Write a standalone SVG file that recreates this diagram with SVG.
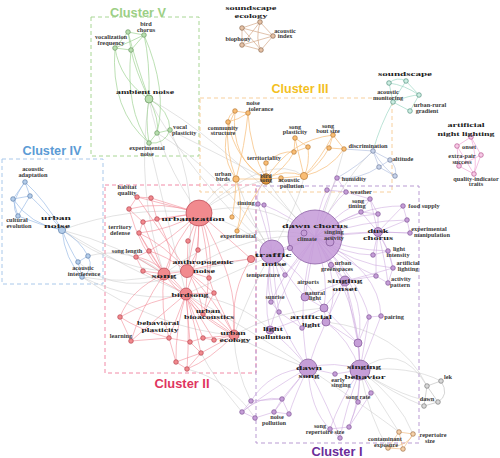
<svg xmlns="http://www.w3.org/2000/svg" width="500" height="458" viewBox="0 0 500 458">
<style>
.bg{fill:#fff}
.box{fill:none;stroke-width:1;stroke-dasharray:4 3}
.ct{font-family:"Liberation Sans",Arial,sans-serif;font-weight:bold;font-size:13px;text-anchor:middle}
.e path{fill:none;stroke-linecap:round}
.eg path{stroke:#c4c4c4;stroke-width:.6;opacity:.8}
.ev path{stroke:#9fd394;stroke-width:.7}
.eb path{stroke:#d4a98a;stroke-width:.7}
.et path{stroke:#9fd8c6;stroke-width:.7}
.ep path{stroke:#f0a6d6;stroke-width:.7}
.e4 path{stroke:#9dbde6;stroke-width:.7}
.e3 path{stroke:#f7c488;stroke-width:.8}
.ea path{stroke:#a9b9dc;stroke-width:.6}
.e2 path{stroke:#f28b96;stroke-width:.65;opacity:.9}
.e1 path{stroke:#cba5dd;stroke-width:.6;opacity:.9}
.el path{stroke:#b9b9b9;stroke-width:.6}
.ec path{stroke:#f0bf8a;stroke-width:.7}
.nv{fill:#b8deae;stroke:#6b9863;stroke-width:.7}
.nb{fill:#e6c2a6;stroke:#8d6a50;stroke-width:.7}
.nt{fill:#cdeee2;stroke:#55917f;stroke-width:.7}
.np{fill:#f7c9e6;stroke:#b5578f;stroke-width:.7}
.n4{fill:#b4cdea;stroke:#5d7ea9;stroke-width:.7}
.n3{fill:#f9bd74;stroke:#b87a35;stroke-width:.7}
.na{fill:#c8d3ea;stroke:#6e7d9c;stroke-width:.7}
.n2{fill:#f18a8e;stroke:#b8434f;stroke-width:.7}
.n1{fill:#c59ed7;stroke:#7f5496;stroke-width:.7}
.nl{fill:#d8d8d8;stroke:#7a7a7a;stroke-width:.7}
.nc{fill:#f5d0a8;stroke:#a07046;stroke-width:.7}
.t{font-family:"Liberation Serif","Times New Roman",serif;font-weight:bold;fill:#3a3a3a;text-anchor:middle;font-size:6.3px}
.st{text-anchor:start}
.L{fill:#222}
</style>
<rect class="bg" width="500" height="458"/>

<g id="cluster-boxes">
<rect class="box" x="91" y="17" width="108" height="139" stroke="#a8d694"/>
<rect class="box" x="2" y="159" width="101" height="125" stroke="#a9c8ea"/>
<rect class="box" x="200" y="98" width="192" height="94" stroke="#f7cf9c"/>
<rect class="box" x="105" y="185" width="151" height="188" stroke="#f18aa6"/>
<rect class="box" x="256" y="186" width="163" height="257" stroke="#b99bd2"/>
<text class="ct" x="138" y="17" fill="#9ccf85" textLength="56" lengthAdjust="spacingAndGlyphs">Cluster V</text>
<text class="ct" x="52" y="155" fill="#5b9bd5" textLength="59" lengthAdjust="spacingAndGlyphs">Cluster IV</text>
<text class="ct" x="300" y="93" fill="#f3bf1f" textLength="57" lengthAdjust="spacingAndGlyphs">Cluster III</text>
<text class="ct" x="182" y="388" fill="#df3560" textLength="55" lengthAdjust="spacingAndGlyphs">Cluster II</text>
<text class="ct" x="337" y="456" fill="#6a2c9a" textLength="51" lengthAdjust="spacingAndGlyphs">Cluster I</text>
</g>

<g id="connectors" class="e">
<g class="eg">
<path d="M149 99Q160 160 199 213"/><path d="M149 99Q185 170 272 252"/><path d="M149 99Q135 190 164 274"/><path d="M149 99Q210 130 315 237"/>
<path d="M170 130Q200 190 187 271"/><path d="M149 143Q165 210 186 294"/><path d="M157 133Q220 170 272 252"/><path d="M170 130Q230 160 266 179"/>
<path d="M199 213Q260 195 315 237"/><path d="M199 213Q245 225 272 252"/><path d="M199 213Q230 190 266 179"/><path d="M199 213Q215 185 236 179"/><path d="M199 213Q270 150 304 176"/>
<path d="M187 271Q250 230 315 237"/><path d="M187 271Q230 265 272 252"/><path d="M164 274Q240 215 315 237"/><path d="M186 294Q260 260 315 237"/>
<path d="M186 294Q240 300 270 330"/><path d="M186 294Q250 330 308 368"/><path d="M234 335Q270 355 308 368"/><path d="M234 335Q280 310 324 308"/><path d="M234 335Q250 290 272 252"/>
<path d="M62 230Q120 245 164 274"/><path d="M62 230Q130 205 199 213"/><path d="M62 230Q130 270 186 294"/><path d="M62 230Q120 275 187 271"/><path d="M82 277Q125 285 164 274"/><path d="M82 277Q140 305 186 294"/><path d="M88 256Q130 245 164 274"/><path d="M82 277Q160 330 234 335"/><path d="M78 262Q120 300 187 271"/>
<path d="M272 252Q300 200 304 176"/><path d="M266 179Q290 215 315 237"/><path d="M281 178Q300 210 315 237"/><path d="M315 237Q350 170 373 151"/><path d="M344 149Q330 200 315 237"/><path d="M236 179Q255 230 272 252"/>
<path d="M360 370Q400 340 427 386"/><path d="M360 370Q410 365 441 381"/><path d="M360 370Q395 395 424 406"/><path d="M360 370Q405 400 438 402"/><path d="M360 370Q385 410 399 432"/><path d="M360 370Q400 400 413 434"/><path d="M308 368Q370 410 399 432"/><path d="M360 370Q370 420 388 448"/><path d="M326 322Q400 330 427 386"/>
<path d="M251 401Q235 370 234 335"/><path d="M242 412Q215 380 201 353"/><path d="M255 418Q230 380 187 369"/>
</g>
<g class="ev">
<path d="M149 99Q135 60 128 32"/><path d="M149 99Q150 60 144 35"/><path d="M149 99Q135 70 131 50"/><path d="M149 99Q120 80 115 48"/>
<path d="M128 32L144 35"/><path d="M128 32L115 48"/><path d="M115 48L131 50"/><path d="M131 50L144 35"/><path d="M128 32L131 50"/><path d="M144 35Q130 42 115 48"/>
<path d="M149 99Q160 120 157 133"/><path d="M149 99Q170 110 170 130"/><path d="M149 99Q145 120 149 143"/><path d="M149 143L157 133"/><path d="M157 133L170 130"/><path d="M149 143Q165 145 170 130"/>
<path d="M115 48Q110 110 149 143"/><path d="M131 50Q125 110 149 143"/><path d="M144 35Q168 90 157 133"/>
</g>
<g class="eb">
<path d="M260 22L242 28"/><path d="M260 22L273 36"/><path d="M260 22L242 45"/><path d="M260 22Q255 40 261 50"/><path d="M242 28L273 36"/><path d="M242 28L242 45"/><path d="M242 28L261 50"/><path d="M242 45L261 50"/><path d="M273 36L261 50"/><path d="M242 45L273 36"/>
</g>
<g class="et">
<path d="M389 83Q397 76 406 81"/><path d="M406 81L419 95"/><path d="M389 83Q405 85 419 95"/><path d="M393 102L410 111"/><path d="M419 95L410 111"/><path d="M393 102Q400 90 406 81"/><path d="M389 83L393 102"/><path d="M393 102Q410 95 419 95"/><path d="M393 102Q380 125 373 151"/>
</g>
<g class="ep">
<path d="M471 137L457 146"/><path d="M471 137L481 155"/><path d="M457 146L459 166"/><path d="M481 155L474 174"/><path d="M459 166L474 174"/><path d="M457 146L474 174"/><path d="M471 137Q478 160 474 174"/><path d="M481 155L459 166"/>
</g>
<g class="e4">
<path d="M25 182L30 196"/><path d="M25 182L13 199"/><path d="M30 196L13 199"/><path d="M13 199L18 216"/><path d="M30 196L18 216"/><path d="M25 182Q45 200 62 230"/><path d="M30 196Q45 210 62 230"/><path d="M13 199Q30 225 62 230"/><path d="M18 216Q40 225 62 230"/>
<path d="M62 230Q80 240 88 256"/><path d="M62 230Q70 250 78 262"/><path d="M62 230Q65 260 82 277"/><path d="M88 256L78 262"/><path d="M78 262L82 277"/><path d="M88 256Q95 270 82 277"/><path d="M25 182Q8 205 18 216"/>
</g>
<g class="e3">
<path d="M235 111L248 113"/><path d="M235 111Q228 115 228 122"/><path d="M248 113Q238 120 228 122"/><path d="M235 111Q230 160 266 179"/><path d="M248 113Q250 150 266 179"/><path d="M228 122Q235 160 266 179"/><path d="M228 122Q225 150 236 179"/><path d="M235 111Q215 150 236 179"/><path d="M248 113Q245 145 236 179"/>
<path d="M295 138L308 147"/><path d="M295 138L294 152"/><path d="M308 147L294 152"/><path d="M294 152Q285 170 266 179"/><path d="M308 147Q310 165 304 176"/><path d="M295 138Q300 160 304 176"/>
<path d="M333 135L329 148"/><path d="M333 135L344 149"/><path d="M329 148L344 149"/><path d="M329 148Q320 165 304 176"/><path d="M344 149Q330 170 304 176"/><path d="M333 135Q320 160 304 176"/>
<path d="M266 163L266 179"/><path d="M266 179L281 178"/><path d="M266 179Q285 168 304 176" stroke-width="2"/><path d="M281 178L304 176"/><path d="M236 179L266 179" stroke-width="1.5"/>
<path d="M236 179Q235 205 232 217"/><path d="M236 179Q245 205 237 231"/><path d="M266 179Q250 200 237 231"/><path d="M266 179Q290 140 333 135"/><path d="M266 163Q280 150 294 152"/>
</g>
<g class="ea">
<path d="M373 151L390 160"/><path d="M373 151L379 167"/><path d="M390 160L379 167"/><path d="M390 160Q398 168 395 176"/><path d="M379 167L395 176"/><path d="M373 151Q385 170 395 176"/><path d="M337 178Q360 165 373 151"/><path d="M337 178Q360 180 379 167"/><path d="M344 149L373 151"/>
</g>
<g class="e2">
<path d="M199 213L137 197"/><path d="M199 213L151 198"/><path d="M199 213Q160 200 129 209"/><path d="M199 213L157 219"/><path d="M199 213L143 222"/><path d="M199 213Q170 230 139 233"/><path d="M199 213L188 241"/><path d="M199 213L198 250"/><path d="M199 213Q170 240 149 251"/><path d="M199 213Q175 240 164 274" stroke-width="1.2"/><path d="M199 213L187 271" stroke-width="2.2"/><path d="M199 213Q200 260 186 294" stroke-width="2.2"/><path d="M199 213Q230 240 251 259"/><path d="M199 213Q240 280 234 335" stroke-width="1.5"/><path d="M199 213Q215 250 209 278"/><path d="M199 213Q215 280 203 314"/>
<path d="M187 271L164 274" stroke-width="1.5"/><path d="M187 271L186 294" stroke-width="2"/><path d="M187 271Q220 262 251 259"/><path d="M187 271L209 278"/><path d="M187 271L198 250"/><path d="M187 271L188 241"/><path d="M187 271Q200 290 203 314"/><path d="M187 271Q215 300 234 335" stroke-width="1.2"/><path d="M187 271Q205 285 214 293"/><path d="M187 271Q165 255 149 251"/><path d="M187 271Q165 245 139 233"/><path d="M187 271Q160 230 137 197"/>
<path d="M164 274L139 233"/><path d="M164 274L149 251"/><path d="M164 274L136 257"/><path d="M164 274L143 271"/><path d="M164 274Q150 240 143 222"/><path d="M164 274Q130 290 120 317"/><path d="M164 274Q140 310 131 341"/><path d="M164 274L186 294" stroke-width="1.5"/><path d="M164 274Q160 310 169 338"/><path d="M164 274Q140 250 129 209"/><path d="M164 274Q180 260 157 219"/><path d="M164 274Q200 320 234 335"/>
<path d="M186 294L214 293"/><path d="M186 294L203 314"/><path d="M186 294Q220 320 234 335" stroke-width="2.2"/><path d="M186 294Q150 300 120 317"/><path d="M186 294Q155 320 131 341"/><path d="M186 294L169 338"/><path d="M186 294L190 342"/><path d="M186 294L203 338"/><path d="M186 294L214 340"/><path d="M186 294Q195 325 201 353"/><path d="M186 294Q175 330 176 362"/><path d="M186 294Q190 330 187 369"/><path d="M186 294L143 271"/><path d="M186 294Q160 260 136 257"/>
<path d="M234 335L203 338"/><path d="M234 335L214 340"/><path d="M234 335L201 353"/><path d="M234 335L203 314"/><path d="M234 335L214 293"/><path d="M234 335Q210 360 187 369"/><path d="M234 335Q230 290 251 259"/>
<path d="M137 197L151 198"/><path d="M137 197L129 209"/><path d="M129 209L143 222"/><path d="M157 219L143 222"/><path d="M143 222L139 233"/><path d="M139 233L149 251"/><path d="M149 251L136 257"/><path d="M136 257L143 271"/><path d="M120 317L131 341"/><path d="M131 341L169 338"/><path d="M190 342L203 338"/><path d="M203 338L214 340"/><path d="M190 342L201 353"/><path d="M201 353L176 362"/><path d="M176 362L187 369"/><path d="M187 369L201 353"/><path d="M169 338L190 342"/><path d="M176 362L169 338"/><path d="M151 198L157 219"/><path d="M203 314L214 293"/><path d="M209 278L214 293"/><path d="M120 317Q140 330 169 338"/><path d="M251 259L272 252"/>
</g>
<g class="e1">
<path d="M315 237L272 252" stroke-width="3"/><path d="M315 237L304 233"/><path d="M315 237L330 242"/><path d="M315 237Q290 215 264 205"/><path d="M315 237Q325 200 337 178"/><path d="M315 237Q330 205 346 192"/><path d="M315 237Q318 205 327 190"/><path d="M315 237Q345 205 370 199"/><path d="M315 237Q340 220 361 212"/><path d="M315 237Q345 215 378 214"/><path d="M315 237Q360 205 403 206"/><path d="M315 237Q365 220 407 220"/><path d="M315 237Q360 230 410 233"/><path d="M315 237L378 232" stroke-width="1.5"/><path d="M315 237Q350 250 388 251"/><path d="M315 237Q345 255 373 255"/><path d="M315 237Q355 265 393 268"/><path d="M315 237Q350 265 376 276"/><path d="M315 237L331 265"/><path d="M315 237L345 281" stroke-width="1.5"/><path d="M315 237L305 297"/><path d="M315 237Q330 280 324 308"/><path d="M315 237Q345 285 326 322"/><path d="M315 237Q300 260 285 275"/><path d="M315 237Q285 270 271 302"/><path d="M315 237Q280 290 270 330"/><path d="M315 237Q295 300 308 368" stroke-width="1.2"/><path d="M315 237Q360 300 360 370" stroke-width="1.2"/><path d="M315 237Q370 290 358 343"/><path d="M315 237Q360 280 369 317"/><path d="M315 237Q380 270 381 316"/>
<path d="M272 252L285 275"/><path d="M272 252L290 248"/><path d="M272 252Q265 280 271 302"/><path d="M272 252Q262 300 270 330"/><path d="M272 252Q285 300 302 328"/><path d="M272 252Q290 280 305 297"/><path d="M272 252Q260 300 308 368"/><path d="M272 252Q265 225 258 204"/><path d="M272 252Q275 290 279 312"/><path d="M272 252Q300 270 324 308"/>
<path d="M345 281L331 265"/><path d="M345 281L324 308"/><path d="M345 281L305 297"/><path d="M345 281Q360 330 360 370"/><path d="M345 281L358 343"/><path d="M345 281L376 276"/><path d="M345 281Q370 275 393 268"/><path d="M345 281L326 322"/>
<path d="M324 308L326 322"/><path d="M324 308L305 297"/><path d="M326 322L302 328"/><path d="M324 308Q300 320 270 330"/><path d="M326 322Q350 340 360 370" stroke-width="1.8"/><path d="M326 322Q315 345 308 368"/><path d="M324 308L358 343"/><path d="M326 322L358 343"/><path d="M302 328L279 312"/><path d="M279 312L271 302"/>
<path d="M308 368Q335 360 360 370" stroke-width="3"/><path d="M308 368L335 374"/><path d="M308 368Q290 390 274 412"/><path d="M308 368Q295 395 289 414"/><path d="M308 368L282 399"/><path d="M308 368Q270 370 251 401"/><path d="M308 368Q270 390 242 412"/><path d="M308 368Q310 410 330 429"/><path d="M308 368Q290 345 270 330"/><path d="M308 368Q330 410 340 438"/>
<path d="M360 370L369 317"/><path d="M360 370L381 316"/><path d="M360 370L358 343" stroke-width="1.5"/><path d="M360 370L335 374"/><path d="M360 370L371 393"/><path d="M360 370L358 402"/><path d="M360 370Q360 400 349 427"/><path d="M360 370Q345 410 340 438"/><path d="M360 370Q340 400 330 429"/><path d="M369 317L381 316"/><path d="M358 343L369 317"/>
<path d="M378 232L370 199"/><path d="M378 232L361 212"/><path d="M378 232L378 214"/><path d="M378 232L403 206"/><path d="M378 232L407 220"/><path d="M378 232L410 233"/><path d="M378 232L388 251"/><path d="M378 232L373 255"/><path d="M378 232Q390 250 393 268"/><path d="M378 232Q385 260 388 283"/><path d="M378 232Q375 255 376 276"/><path d="M370 199L361 212"/><path d="M361 212L378 214"/><path d="M370 199L378 214"/><path d="M346 192L370 199"/><path d="M327 190L346 192"/><path d="M403 206L407 220"/><path d="M407 220L410 233"/><path d="M388 251L393 268"/><path d="M393 268L388 283"/><path d="M376 276L388 283"/><path d="M373 255L388 251"/>
<path d="M274 412L289 414"/><path d="M274 412L282 399"/><path d="M282 399L289 414"/><path d="M251 401L242 412"/><path d="M242 412L255 418"/><path d="M251 401L282 399"/><path d="M255 418L274 412"/><path d="M242 412Q260 395 282 399"/>
<path d="M330 429L349 427"/><path d="M340 438L330 429"/><path d="M349 427L371 393"/><path d="M358 402L371 393"/><path d="M358 402L349 427"/>
<path d="M258 204L264 205"/><path d="M264 205Q270 225 272 252"/><path d="M258 204Q255 190 266 179"/><path d="M337 178L346 192"/>
</g>
<g class="el">
<path d="M441 381L427 386"/><path d="M427 386L424 406"/><path d="M424 406L438 402"/><path d="M441 381Q450 395 438 402"/><path d="M427 386L438 402"/>
</g>
<g class="ec">
<path d="M399 432L413 434"/><path d="M399 432L388 448"/><path d="M388 448L403 449"/><path d="M413 434L403 449"/><path d="M399 432L403 449"/><path d="M413 434Q410 445 388 448"/>
</g>
</g>

<g id="nodes">
<g id="n-bird-chorus"><circle class="nv" cx="128" cy="32" r="2.3"/><text class="t" x="146" y="26">bird</text><text class="t" x="146" y="31.5">chorus</text></g>
<g id="n-v2"><circle class="nv" cx="144" cy="35" r="2.3"/></g>
<g id="n-vocalization-frequency"><circle class="nv" cx="115" cy="48" r="2.3"/><text class="t" x="111" y="39">vocalization</text><text class="t" x="111" y="45">frequency</text></g>
<g id="n-v4"><circle class="nv" cx="131" cy="50" r="2.3"/></g>
<g id="n-ambient-noise"><circle class="nv" cx="149" cy="99" r="4"/><text class="t L" x="145" y="94" font-size="11" textLength="58" lengthAdjust="spacingAndGlyphs">ambient noise</text></g>
<g id="n-v6"><circle class="nv" cx="157" cy="133" r="2.3"/></g>
<g id="n-vocal-plasticity"><circle class="nv" cx="170" cy="130" r="2.3"/><text class="t st" x="173" y="129">vocal</text><text class="t st" x="172" y="135">plasticity</text></g>
<g id="n-experimental-noise"><circle class="nv" cx="149" cy="143" r="2.3"/><text class="t" x="147" y="150">experimental</text><text class="t" x="147" y="155.5">noise</text></g>
<g id="n-soundscape-ecology"><circle class="nb" cx="260" cy="22" r="2.3"/><text class="t L" x="251" y="10" font-size="10" textLength="51" lengthAdjust="spacingAndGlyphs">soundscape</text><text class="t L" x="251" y="18" font-size="10" textLength="33" lengthAdjust="spacingAndGlyphs">ecology</text></g>
<g id="n-b2"><circle class="nb" cx="242" cy="28" r="2.3"/></g>
<g id="n-acoustic-index"><circle class="nb" cx="273" cy="36" r="2.3"/><text class="t" x="285" y="33">acoustic</text><text class="t" x="285" y="38">index</text></g>
<g id="n-biophony"><circle class="nb" cx="242" cy="45" r="2.3"/><text class="t" x="238" y="41">biophony</text></g>
<g id="n-b5"><circle class="nb" cx="261" cy="50" r="2.3"/></g>
<g id="n-soundscape"><circle class="nt" cx="389" cy="83" r="2.3"/><text class="t L" x="405" y="76" font-size="11" textLength="54" lengthAdjust="spacingAndGlyphs">soundscape</text></g>
<g id="n-t2"><circle class="nt" cx="406" cy="81" r="2.3"/></g>
<g id="n-acoustic-monitoring"><circle class="nt" cx="393" cy="102" r="2.3"/><text class="t" x="388" y="94">acoustic</text><text class="t" x="388" y="100">monitoring</text></g>
<g id="n-t4"><circle class="nt" cx="419" cy="95" r="2.3"/></g>
<g id="n-urban-rural-gradient"><circle class="nt" cx="410" cy="111" r="2.3"/><text class="t" x="430" y="107">urban-rural</text><text class="t" x="427" y="113">gradient</text></g>
<g id="n-artificial-night-lighting"><circle class="np" cx="471" cy="137" r="2.3"/><text class="t L" x="466" y="127" font-size="11" textLength="37" lengthAdjust="spacingAndGlyphs">artificial</text><text class="t L" x="466" y="136" font-size="11" textLength="57" lengthAdjust="spacingAndGlyphs">night lighting</text></g>
<g id="n-onset"><circle class="np" cx="457" cy="146" r="2.3"/><text class="t" x="469" y="148.5">onset</text></g>
<g id="n-p3"><circle class="np" cx="481" cy="155" r="2.3"/></g>
<g id="n-extra-pair-success"><circle class="np" cx="459" cy="166" r="2.3"/><text class="t" x="462" y="158">extra-pair</text><text class="t" x="462" y="163.5">success</text></g>
<g id="n-quality-indicator-traits"><circle class="np" cx="474" cy="174" r="2.3"/><text class="t" x="476" y="181">quality-indicator</text><text class="t" x="476" y="186">traits</text></g>
<g id="n-acoustic-adaptation"><circle class="n4" cx="25" cy="182" r="2.3"/><text class="t" x="33" y="171">acoustic</text><text class="t" x="33" y="176.5">adaptation</text></g>
<g id="n-4b"><circle class="n4" cx="30" cy="196" r="2.3"/></g>
<g id="n-4c"><circle class="n4" cx="13" cy="199" r="2.3"/></g>
<g id="n-cultural-evolution"><circle class="n4" cx="18" cy="216" r="2.3"/><text class="t" x="17" y="222">cultural</text><text class="t" x="19" y="227.5">evolution</text></g>
<g id="n-urban-noise"><circle class="n4" cx="62" cy="230" r="3.6"/><text class="t L" x="56" y="220" font-size="12.5" textLength="30" lengthAdjust="spacingAndGlyphs">urban</text><text class="t L" x="57" y="228" font-size="12.5" textLength="26" lengthAdjust="spacingAndGlyphs">noise</text></g>
<g id="n-4f"><circle class="n4" cx="88" cy="256" r="2.3"/></g>
<g id="n-4g"><circle class="n4" cx="78" cy="262" r="2.3"/></g>
<g id="n-acoustic-interference"><circle class="n4" cx="82" cy="277" r="2.3"/><text class="t" x="83" y="270">acoustic</text><text class="t" x="84" y="276">interference</text></g>
<g id="n-noise-tolerance"><circle class="n3" cx="235" cy="111" r="2.3"/><text class="t" x="253" y="105">noise</text><text class="t" x="261" y="110.5">tolerance</text></g>
<g id="n-3b"><circle class="n3" cx="248" cy="113" r="2.3"/></g>
<g id="n-community-structure"><circle class="n3" cx="228" cy="122" r="2.3"/><text class="t" x="223" y="129.5">community</text><text class="t" x="223" y="135">structure</text></g>
<g id="n-song-plasticity"><circle class="n3" cx="295" cy="138" r="2.3"/><text class="t" x="295" y="129">song</text><text class="t" x="295" y="134">plasticity</text></g>
<g id="n-3e"><circle class="n3" cx="308" cy="147" r="2.3"/></g>
<g id="n-3f"><circle class="n3" cx="294" cy="152" r="2.3"/></g>
<g id="n-song-bout-size"><circle class="n3" cx="333" cy="135" r="2.3"/><text class="t" x="328" y="128">song</text><text class="t" x="328" y="133">bout size</text></g>
<g id="n-3h"><circle class="n3" cx="329" cy="148" r="2.3"/></g>
<g id="n-discrimination"><circle class="n3" cx="344" cy="149" r="2.3"/><text class="t" x="368" y="148">discrimination</text></g>
<g id="n-territoriality"><circle class="n3" cx="266" cy="163" r="2.3"/><text class="t" x="264" y="160">territoriality</text></g>
<g id="n-urban-birds"><circle class="n3" cx="236" cy="179" r="3.2"/><text class="t" x="223" y="176">urban</text><text class="t" x="223" y="181">birds</text></g>
<g id="n-bird-song"><circle cx="266" cy="179" r="5.2" fill="#e39a3e" stroke="#8a5520" stroke-width=".8"/><text class="t" x="266" y="177.8" font-size="4.2">bird</text><text class="t" x="266" y="182.2" font-size="4.2">song</text></g>
<g id="n-acoustic-pollution"><circle class="n3" cx="281" cy="178" r="2.3"/><text class="t" x="289" y="182">acoustic</text><text class="t" x="292" y="188">pollution</text></g>
<g id="n-3n"><circle class="n3" cx="304" cy="176" r="3.6"/></g>
<g id="n-experimental"><circle class="n3" cx="232" cy="217" r="2.2"/><circle class="n3" cx="237" cy="231" r="2.2"/><text class="t" x="238" y="238">experimental</text></g>
<g id="n-a1"><circle class="na" cx="373" cy="151" r="2.3"/></g>
<g id="n-altitude"><circle class="na" cx="390" cy="160" r="2.3"/><text class="t" x="403" y="161">altitude</text></g>
<g id="n-a3"><circle class="na" cx="379" cy="167" r="2.3"/></g>
<g id="n-a4"><circle class="na" cx="395" cy="176" r="2.3"/></g>
<g id="n-urbanization"><circle class="n2" cx="199" cy="213" r="13"/><text class="t L" x="193" y="221" font-size="15" textLength="63" lengthAdjust="spacingAndGlyphs">urbanization</text></g>
<g id="n-habitat-quality"><circle class="n2" cx="137" cy="197" r="2.3"/><text class="t" x="127" y="189">habitat</text><text class="t" x="127" y="195">quality</text></g>
<g id="n-2b"><circle class="n2" cx="151" cy="198" r="2.3"/></g>
<g id="n-2c"><circle class="n2" cx="129" cy="209" r="2.3"/></g>
<g id="n-2d"><circle class="n2" cx="157" cy="219" r="2.3"/></g>
<g id="n-2e"><circle class="n2" cx="143" cy="222" r="2.3"/></g>
<g id="n-territory-defense"><circle class="n2" cx="139" cy="233" r="2.3"/><text class="t" x="120" y="229">territory</text><text class="t" x="120" y="235">defense</text></g>
<g id="n-2g"><circle class="n2" cx="188" cy="241" r="2.3"/></g>
<g id="n-2h"><circle class="n2" cx="198" cy="250" r="2.3"/></g>
<g id="n-song-length"><circle class="n2" cx="149" cy="251" r="2.3"/><text class="t" x="127" y="253">song length</text></g>
<g id="n-2j"><circle class="n2" cx="136" cy="257" r="2.3"/></g>
<g id="n-2k"><circle class="n2" cx="143" cy="271" r="2.3"/></g>
<g id="n-song"><circle class="n2" cx="164" cy="274" r="6"/><text class="t L" x="164" y="278" font-size="14" textLength="25" lengthAdjust="spacingAndGlyphs">song</text></g>
<g id="n-anthropogenic-noise"><circle class="n2" cx="187" cy="271" r="6.5"/><text class="t L" x="203" y="264" font-size="11" textLength="61" lengthAdjust="spacingAndGlyphs">anthropogenic</text><text class="t L" x="204" y="273" font-size="11" textLength="22" lengthAdjust="spacingAndGlyphs">noise</text></g>
<g id="n-2n"><circle class="n2" cx="251" cy="259" r="3.6"/></g>
<g id="n-2o"><circle class="n2" cx="209" cy="278" r="2.3"/></g>
<g id="n-birdsong"><circle class="n2" cx="186" cy="294" r="6"/><text class="t L" x="190" y="297" font-size="10.5" textLength="37" lengthAdjust="spacingAndGlyphs">birdsong</text></g>
<g id="n-2q"><circle class="n2" cx="214" cy="293" r="2.3"/></g>
<g id="n-urban-bioacoustics"><circle class="n2" cx="203" cy="314" r="2.3"/><text class="t L" x="208" y="312.5" font-size="8.5" textLength="24" lengthAdjust="spacingAndGlyphs">urban</text><text class="t L" x="209" y="319" font-size="8.5" textLength="50" lengthAdjust="spacingAndGlyphs">bioacoustics</text></g>
<g id="n-2s"><circle class="n2" cx="120" cy="317" r="2.3"/></g>
<g id="n-behavioral-plasticity"><circle class="n2" cx="169" cy="338" r="2.3"/><text class="t L" x="158" y="325" font-size="9.5" textLength="42" lengthAdjust="spacingAndGlyphs">behavioral</text><text class="t L" x="160" y="332" font-size="9.5" textLength="37" lengthAdjust="spacingAndGlyphs">plasticity</text></g>
<g id="n-learning"><circle class="n2" cx="131" cy="341" r="2.3"/><text class="t" x="121" y="338">learning</text></g>
<g id="n-urban-ecology"><circle class="n2" cx="234" cy="335" r="5"/><text class="t L" x="233" y="335" font-size="9.5" textLength="25" lengthAdjust="spacingAndGlyphs">urban</text><text class="t L" x="235" y="342" font-size="9.5" textLength="31" lengthAdjust="spacingAndGlyphs">ecology</text></g>
<g id="n-2w"><circle class="n2" cx="190" cy="342" r="2.3"/></g>
<g id="n-2x"><circle class="n2" cx="203" cy="338" r="2.3"/></g>
<g id="n-2y"><circle class="n2" cx="214" cy="340" r="2.3"/></g>
<g id="n-2z"><circle class="n2" cx="201" cy="353" r="2.3"/></g>
<g id="n-2aa"><circle class="n2" cx="176" cy="362" r="2.3"/></g>
<g id="n-2ab"><circle class="n2" cx="187" cy="369" r="2.3"/></g>
<g id="n-dawn-chorus"><circle cx="315" cy="237" r="27" fill="#c49ad8" fill-opacity=".85" stroke="#8b5fa5" stroke-width=".8"/><text class="t L" x="315" y="228" font-size="19" textLength="66" lengthAdjust="spacingAndGlyphs">dawn chorus</text></g>
<g id="n-traffic-noise"><circle cx="272" cy="252" r="12" fill="#c49ad8" fill-opacity=".9" stroke="#8b5fa5" stroke-width=".8"/><text class="t L" x="273" y="257" font-size="13" textLength="37" lengthAdjust="spacingAndGlyphs">traffic</text><text class="t L" x="274" y="266" font-size="13" textLength="25" lengthAdjust="spacingAndGlyphs">noise</text></g>
<g id="n-climate"><circle class="n1" cx="304" cy="233" r="3"/><text class="t" x="307" y="241">climate</text></g>
<g id="n-singing-activity"><circle class="n1" cx="330" cy="242" r="4"/><text class="t" x="334" y="234">singing</text><text class="t" x="334" y="239.5">activity</text></g>
<g id="n-1p"><circle class="n1" cx="290" cy="248" r="2.6"/></g>
<g id="n-timing"><circle class="n1" cx="258" cy="204" r="2.2"/><circle class="n1" cx="264" cy="205" r="2.2"/><text class="t" x="246" y="205">timing</text></g>
<g id="n-humidity"><circle class="n1" cx="337" cy="178" r="2.3"/><text class="t" x="354" y="180.5">humidity</text></g>
<g id="n-1n4"><circle class="n1" cx="327" cy="190" r="2.3"/></g>
<g id="n-weather"><circle class="n1" cx="346" cy="192" r="2.3"/><text class="t" x="361" y="194">weather</text></g>
<g id="n-song-timing"><circle class="n1" cx="361" cy="212" r="2.3"/><text class="t" x="358" y="203">song</text><text class="t" x="357" y="208">timing</text></g>
<g id="n-1st1"><circle class="n1" cx="370" cy="199" r="2.3"/></g>
<g id="n-1st3"><circle class="n1" cx="378" cy="214" r="2.3"/></g>
<g id="n-food-supply"><circle class="n1" cx="403" cy="206" r="2.3"/><text class="t" x="424" y="207.5">food supply</text></g>
<g id="n-1n3"><circle class="n1" cx="407" cy="220" r="2.3"/></g>
<g id="n-experimental-manipulation"><circle class="n1" cx="410" cy="233" r="2.3"/><text class="t" x="429" y="231">experimental</text><text class="t" x="432" y="236.5">manipulation</text></g>
<g id="n-dusk-chorus"><circle class="n1" cx="378" cy="232" r="4.5"/><text class="t L" x="378" y="233" font-size="12" textLength="21" lengthAdjust="spacingAndGlyphs">dusk</text><text class="t L" x="378" y="240" font-size="12" textLength="30" lengthAdjust="spacingAndGlyphs">chorus</text></g>
<g id="n-light-intensity"><circle class="n1" cx="388" cy="251" r="2.3"/><text class="t" x="399" y="251">light</text><text class="t" x="398" y="257">intensity</text></g>
<g id="n-1n5"><circle class="n1" cx="373" cy="255" r="2.3"/></g>
<g id="n-artificial-lighting"><circle class="n1" cx="393" cy="268" r="2.3"/><text class="t" x="408" y="265">artificial</text><text class="t" x="408" y="270.5">lighting</text></g>
<g id="n-1ap2"><circle class="n1" cx="376" cy="276" r="2.3"/></g>
<g id="n-activity-pattern"><circle class="n1" cx="388" cy="283" r="2.3"/><text class="t" x="401" y="281">activity</text><text class="t" x="400" y="287">pattern</text></g>
<g id="n-temperature"><circle class="n1" cx="285" cy="275" r="2.3"/><text class="t" x="263" y="277">temperature</text></g>
<g id="n-urban-greenspaces"><circle class="n1" cx="331" cy="265" r="2.6"/><text class="t" x="343" y="265" font-size="5.6">urban</text><text class="t" x="337" y="270.5" font-size="5.6">greenspaces</text></g>
<g id="n-singing-onset"><circle class="n1" cx="345" cy="281" r="5"/><text class="t L" x="345" y="282.5" font-size="12" textLength="35" lengthAdjust="spacingAndGlyphs">singing</text><text class="t L" x="345" y="291" font-size="12" textLength="25" lengthAdjust="spacingAndGlyphs">onset</text></g>
<g id="n-airports"><text class="t" x="308" y="284">airports</text></g>
<g id="n-natural-light"><circle class="n1" cx="305" cy="297" r="4"/><text class="t" x="315" y="294.5">natural</text><text class="t" x="315" y="300">light</text></g>
<g id="n-sunrise"><circle class="n1" cx="271" cy="302" r="2.3"/><text class="t" x="275" y="299">sunrise</text></g>
<g id="n-1n1"><circle class="n1" cx="279" cy="312" r="2.3"/></g>
<g id="n-artificial-light"><circle class="n1" cx="324" cy="308" r="4"/><circle class="n1" cx="326" cy="322" r="4"/><text class="t L" x="311" y="319" font-size="12.5" textLength="42" lengthAdjust="spacingAndGlyphs">artificial</text><text class="t L" x="311" y="326.5" font-size="12.5" textLength="18" lengthAdjust="spacingAndGlyphs">light</text></g>
<g id="n-1al3"><circle class="n1" cx="302" cy="328" r="2.3"/></g>
<g id="n-light-pollution"><circle class="n1" cx="270" cy="330" r="4"/><text class="t L" x="273" y="331" font-size="10.5" textLength="20" lengthAdjust="spacingAndGlyphs">light</text><text class="t L" x="273" y="339" font-size="10.5" textLength="36" lengthAdjust="spacingAndGlyphs">pollution</text></g>
<g id="n-1n2"><circle class="n1" cx="358" cy="343" r="4"/></g>
<g id="n-pairing"><circle class="n1" cx="369" cy="317" r="2.3"/><circle class="n1" cx="381" cy="316" r="2.3"/><text class="t" x="394" y="318.5">pairing</text></g>
<g id="n-dawn-song"><circle class="n1" cx="308" cy="368" r="9"/><text class="t L" x="309" y="370" font-size="11.5" textLength="26" lengthAdjust="spacingAndGlyphs">dawn</text><text class="t L" x="309" y="377.5" font-size="11.5" textLength="21" lengthAdjust="spacingAndGlyphs">song</text></g>
<g id="n-singing-behavior"><circle class="n1" cx="360" cy="370" r="10"/><text class="t L" x="364" y="369" font-size="12" textLength="34" lengthAdjust="spacingAndGlyphs">singing</text><text class="t L" x="365" y="379" font-size="12" textLength="41" lengthAdjust="spacingAndGlyphs">behavior</text></g>
<g id="n-early-singing"><circle class="n1" cx="335" cy="374" r="2.3"/><text class="t" x="338" y="381.5">early</text><text class="t" x="341" y="386.5">singing</text></g>
<g id="n-song-rate"><circle class="n1" cx="371" cy="393" r="2.3"/><circle class="n1" cx="358" cy="402" r="2.3"/><text class="t" x="358" y="399">song rate</text></g>
<g id="n-song-repertoire-size"><circle class="n1" cx="330" cy="429" r="2.3"/><circle class="n1" cx="340" cy="438" r="2.3"/><circle class="n1" cx="349" cy="427" r="2.3"/><text class="t" x="320" y="428">song</text><text class="t" x="325" y="434">repertoire size</text></g>
<g id="n-noise-pollution"><circle class="n1" cx="274" cy="412" r="2.3"/><circle class="n1" cx="289" cy="414" r="2.3"/><text class="t" x="277" y="419">noise</text><text class="t" x="274" y="425">pollution</text></g>
<g id="n-1np3"><circle class="n1" cx="282" cy="399" r="2.3"/></g>
<g id="n-1np4"><circle class="n1" cx="251" cy="401" r="2.3"/></g>
<g id="n-1np5"><circle class="n1" cx="242" cy="412" r="2.3"/></g>
<g id="n-1np6"><circle class="n1" cx="255" cy="418" r="2.3"/></g>
<g id="n-lek"><circle class="nl" cx="441" cy="381" r="2.3"/><circle class="nl" cx="427" cy="386" r="2.3"/><text class="t" x="448" y="379">lek</text></g>
<g id="n-dawn"><circle class="nl" cx="438" cy="402" r="2.3"/><circle class="nl" cx="424" cy="406" r="2.3"/><text class="t" x="427" y="401">dawn</text></g>
<g id="n-contaminant-exposure"><circle class="nc" cx="399" cy="432" r="2.3"/><circle class="nc" cx="388" cy="448" r="2.3"/><circle class="nc" cx="403" cy="449" r="2.3"/><text class="t" x="385" y="441">contaminant</text><text class="t" x="386" y="446.5">exposure</text></g>
<g id="n-repertoire-size"><circle class="nc" cx="413" cy="434" r="2.3"/><text class="t" x="433" y="437">repertoire</text><text class="t" x="430" y="443">size</text></g>
</g>
</svg>
